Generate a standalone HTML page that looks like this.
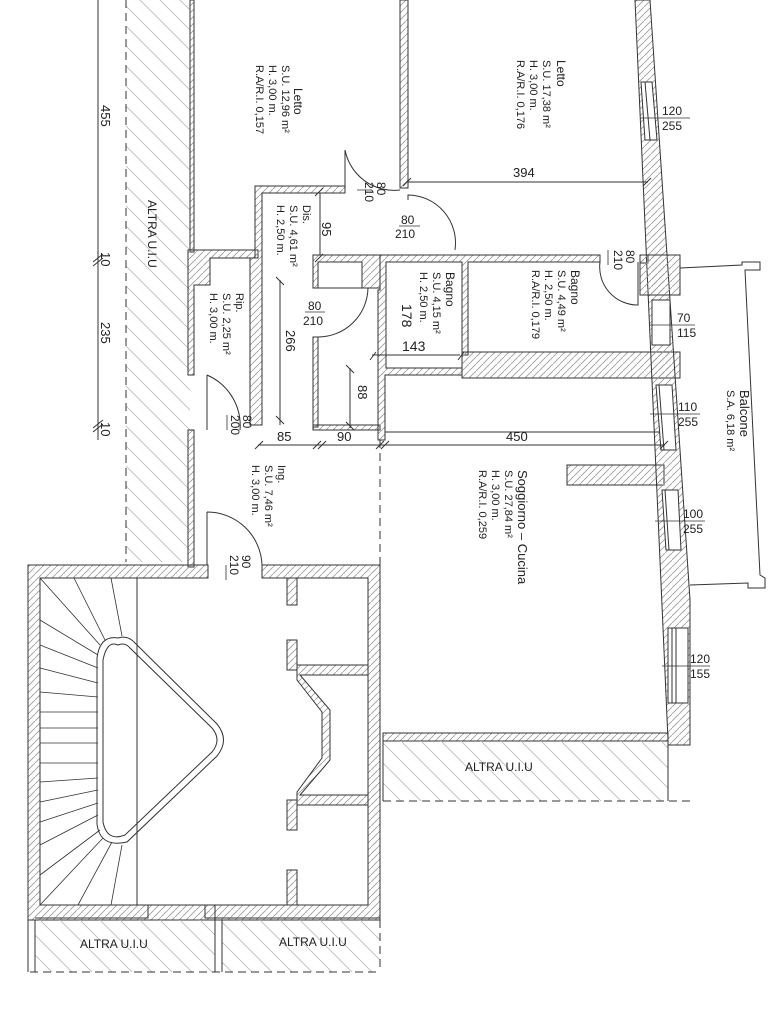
<!DOCTYPE html>
<html><head><meta charset="utf-8"><style>
html,body{margin:0;padding:0;background:#fff;width:768px;height:1024px;overflow:hidden}
svg{display:block}
text{font-family:"Liberation Sans Narrow","Liberation Sans",sans-serif;fill:#222}
</style></head><body>
<svg width="768" height="1024" viewBox="0 0 768 1024" xmlns="http://www.w3.org/2000/svg">
<defs>
<pattern id="h" patternUnits="userSpaceOnUse" width="7" height="7"><path d="M-1,8 L8,-1" stroke="#999" stroke-width="0.8"/></pattern>
<pattern id="b" patternUnits="userSpaceOnUse" width="20" height="20"><path d="M0,0 L20,20 M-10,10 L10,30 M10,-10 L30,10" stroke="#bbb" stroke-width="0.8"/></pattern>
</defs>
<g stroke="#333" stroke-width="1" fill="none">
<rect x="126" y="0" width="64" height="562" fill="url(#b)" stroke="none"/>
<line x1="126" y1="0" x2="126" y2="562" stroke-dasharray="8,5"/>
<line x1="98" y1="0" x2="98" y2="440"/>
<path d="M93,262 l10,-8 M93,266 l10,-8 M93,428 l10,-8 M93,432 l10,-8"/>

<g fill="url(#h)">
<rect x="190" y="0" width="4" height="252"/>
<rect x="400" y="0" width="8" height="188"/>
<path d="M190,250 H258 V258 H210 V285 H194 V375 H188 V250 Z"/>
<rect x="188" y="430" width="6" height="137"/>
<path d="M255,186 H345 V193 H262 V425 H250 V258 H255 Z"/>
<path d="M313,255 H380 V288 H362 V262 H318 V288 H313 Z"/>
<rect x="313" y="337" width="5" height="90"/>
<rect x="313" y="425" width="67" height="5"/>
<path d="M380,255 H600 V262 H468 V355 H462 V262 H386 V368 H462 V375 H385 V440 H378 V290 H380 Z"/>
<rect x="640" y="255" width="8" height="8"/>
<path d="M462,352 H680 V378 H462 Z"/>
<rect x="567" y="465" width="97" height="20"/>
<path d="M635,0 H650 L690,600 V745 H668 V740 L635,0 Z"/>
<rect x="640" y="255" width="40" height="40"/>
<rect x="383" y="733" width="285" height="8"/>
<path d="M28,565 H208 V578 H40 V905 H368 V578 H262 V565 H380 V920 H28 Z"/>
<rect x="287" y="578" width="10" height="27"/>
<rect x="287" y="640" width="10" height="30"/>
<rect x="287" y="800" width="10" height="30"/>
<rect x="287" y="870" width="10" height="35"/>
<path d="M297,665 H368 V675 H300 L330,710 V760 L300,795 H368 V805 H297 V792 L322,758 V712 L297,680 Z"/>
</g>
<g fill="#fff">
<polygon points="641,82 652,82 657,140 645,140"/>
<rect x="652" y="300" width="18" height="45"/>
<polygon points="656,385 672,385 676,450 661,450"/>
<polygon points="662,490 678,490 681,550 666,550"/>
<rect x="668" y="628" width="20" height="75"/>
</g>
<path d="M645,82 L650,140 M659,385 L664,450 M665,490 L669,550 M672,628 V703 M676,628 V703"/>
<path d="M680,268 L742,265 V262 L760,262 V270 L745,270 L760,575 L765,578 V588 L748,588 V583 L690,585"/>
<rect x="383" y="741" width="285" height="60" fill="url(#b)" stroke="none"/>
<path d="M383,741 V801 M668,741 V801"/>
<line x1="383" y1="801" x2="690" y2="801" stroke-dasharray="8,5"/>
<line x1="380" y1="440" x2="380" y2="740" stroke-dasharray="8,5"/>
<rect x="35" y="920" width="180" height="52" fill="url(#b)" stroke="none"/>
<rect x="222" y="920" width="158" height="52" fill="url(#b)" stroke="none"/>
<path d="M35,920 V972 M215,905 V972 M222,920 V972 M35,918 H148 V905 M205,905 V918 H380"/>
<line x1="30" y1="972" x2="380" y2="972" stroke-dasharray="8,5"/>
<line x1="380" y1="920" x2="380" y2="972" stroke-dasharray="8,5"/>
<line x1="28" y1="578" x2="28" y2="972"/>
<line x1="137" y1="578" x2="137" y2="905"/>
<path d="M118,645 Q107,640 103,660 V822 Q107,842 125,835 L212,752 Q222,740 212,728 L130,648 Q125,642 118,645 Z"/>
<path d="M118,638 Q100,635 97,658 V824 Q100,848 127,842 L217,756 Q230,740 217,724 L134,642 Q127,635 118,638 Z"/>
<g stroke-width="0.8">
<path d="M40,578 L100,645 M74,578 L105,640 M111,578 L122,636 M40,620 L98,655 M40,645 L98,668 M40,668 L98,683 M40,692 L98,697 M40,712 H98 M40,728 H98 M40,743 H98 M40,763 H98 M40,782 L98,778 M40,802 L98,790 M40,822 L98,803 M40,845 L98,815 M40,875 L100,830 M40,905 L103,838 M78,905 L112,842 M111,905 L122,845"/>
</g>
<path d="M345,193 V150 A50,50 0 0 0 400,190"/>
<path d="M408,200 V195 A48,48 0 0 1 455,250"/>
<path d="M318,288 H368 A50,50 0 0 1 318,337"/>
<path d="M600,262 A38,38 0 0 0 638,305 V262"/>
<path d="M207,375 A55,55 0 0 1 240,430 M207,375 V430"/>
<path d="M207,512 A55,55 0 0 1 262,565 M207,512 V565"/>
<path d="M408,182 H648 M403,186 l8,-8 M643,186 l8,-8"/>
<path d="M320,193 V255 M315,196 l8,-8 M315,262 l8,-8"/>
<path d="M280,280 V425 M276,277 l8,8 M276,416 l8,8"/>
<path d="M350,368 V428 M346,365 l8,8 M346,422 l8,8"/>
<path d="M372,355 H460 M370,360 l6,-8 M458,360 l6,-8"/>
<path d="M386,262 V368"/>
<path d="M258,445 H665 M255,449 l8,-8 M313,449 l8,-8 M318,449 l8,-8 M376,449 l8,-8 M381,449 l8,-8 M660,449 l8,-8"/>
<path d="M385,432 H660"/>
<g stroke-width="0.8">
<path d="M357,190 H372 M399,226 H420 M305,312 H325 M608,250 V265 M227,415 V430 M226,565 V580"/>
<path d="M640,118 H690 M650,325 H695 M650,414 H700 M655,521 H705 M662,666 H710"/>
</g>
</g>

<g font-size="13">
<g transform="translate(98,105) rotate(90)"><text x="0" y="-3">455</text></g>
<g transform="translate(98,252) rotate(90)"><text x="0" y="-3">10</text></g>
<g transform="translate(98,322) rotate(90)"><text x="0" y="-3">235</text></g>
<g transform="translate(98,422) rotate(90)"><text x="0" y="-3">10</text></g>
<g transform="translate(148,200) rotate(90)"><text x="0" y="0" font-size="12">ALTRA U.I.U</text></g>
</g>
<g font-size="11">
<g transform="translate(294,88) rotate(90)"><text x="0" y="0" font-size="12">Letto</text></g>
<g transform="translate(282,65) rotate(90)"><text x="0" y="0">S.U. 12,96 m²</text><text x="0" y="13">H. 3,00 m.</text><text x="0" y="26">R.A/R.I. 0,157</text></g>
<g transform="translate(557,60) rotate(90)"><text x="0" y="0" font-size="12">Letto</text></g>
<g transform="translate(543,60) rotate(90)"><text x="0" y="0">S.U. 17,38 m²</text><text x="0" y="13">H. 3,00 m.</text><text x="0" y="26">R.A/R.I. 0,176</text></g>
<g transform="translate(303,205) rotate(90)"><text x="0" y="0">Dis.</text><text x="0" y="13">S.U. 4,61 m²</text><text x="0" y="26">H. 2,50 m.</text></g>
<g transform="translate(446,272) rotate(90)"><text x="0" y="0" font-size="12">Bagno</text><text x="0" y="13">S.U. 4,15 m²</text><text x="0" y="26">H. 2,50 m.</text></g>
<g transform="translate(571,270) rotate(90)"><text x="0" y="0" font-size="12">Bagno</text><text x="0" y="13">S.U. 4,49 m²</text><text x="0" y="26">H. 2,50 m.</text><text x="0" y="39">R.A/R.I. 0,179</text></g>
<g transform="translate(236,293) rotate(90)"><text x="0" y="0">Rip.</text><text x="0" y="13">S.U. 2,25 m²</text><text x="0" y="26">H. 3,00 m.</text></g>
<g transform="translate(278,465) rotate(90)"><text x="0" y="0">Ing.</text><text x="0" y="13">S.U. 7,46 m²</text><text x="0" y="26">H. 3,00 m.</text></g>
<g transform="translate(518,470) rotate(90)"><text x="0" y="0" font-size="13">Soggiorno – Cucina</text><text x="0" y="13">S.U. 27,84 m²</text><text x="0" y="26">H. 3,00 m.</text><text x="0" y="39">R.A/R.I. 0,259</text></g>
<g transform="translate(740,390) rotate(90)"><text x="0" y="0" font-size="13">Balcone</text><text x="0" y="13">S.A. 6,18 m²</text></g>
</g>
<g font-size="13">
<g transform="translate(322,222) rotate(90)"><text x="0" y="0">95</text></g>
<g transform="translate(286,330) rotate(90)"><text x="0" y="0">266</text></g>
<g transform="translate(358,385) rotate(90)"><text x="0" y="0">88</text></g>
<g transform="translate(402,304) rotate(90)"><text x="0" y="0" font-size="14">178</text></g>
<text x="402" y="351" font-size="14">143</text>
<text x="277" y="441">85</text>
<text x="337" y="441">90</text>
<text x="506" y="441">450</text>
<text x="513" y="177">394</text>
</g>
<g font-size="12">
<g transform="translate(377,182) rotate(90)"><text x="0" y="0">80</text><text x="0" y="12">210</text></g>
<g transform="translate(626,250) rotate(90)"><text x="0" y="0">80</text><text x="0" y="12">210</text></g>
<g transform="translate(243,415) rotate(90)"><text x="0" y="0">80</text><text x="0" y="12">200</text></g>
<g transform="translate(242,555) rotate(90)"><text x="0" y="0">90</text><text x="0" y="12">210</text></g>
<text x="401" y="224">80</text><text x="395" y="238">210</text>
<text x="308" y="310">80</text><text x="303" y="325">210</text>
<text x="662" y="115">120</text><text x="662" y="130">255</text>
<text x="677" y="322">70</text><text x="677" y="337">115</text>
<text x="678" y="411">110</text><text x="678" y="426">255</text>
<text x="683" y="518">100</text><text x="683" y="533">255</text>
<text x="690" y="663">120</text><text x="690" y="678">155</text>
<text x="465" y="771">ALTRA U.I.U</text>
<text x="80" y="948">ALTRA U.I.U</text>
<text x="279" y="946">ALTRA U.I.U</text>
</g>
</svg>
</body></html>
